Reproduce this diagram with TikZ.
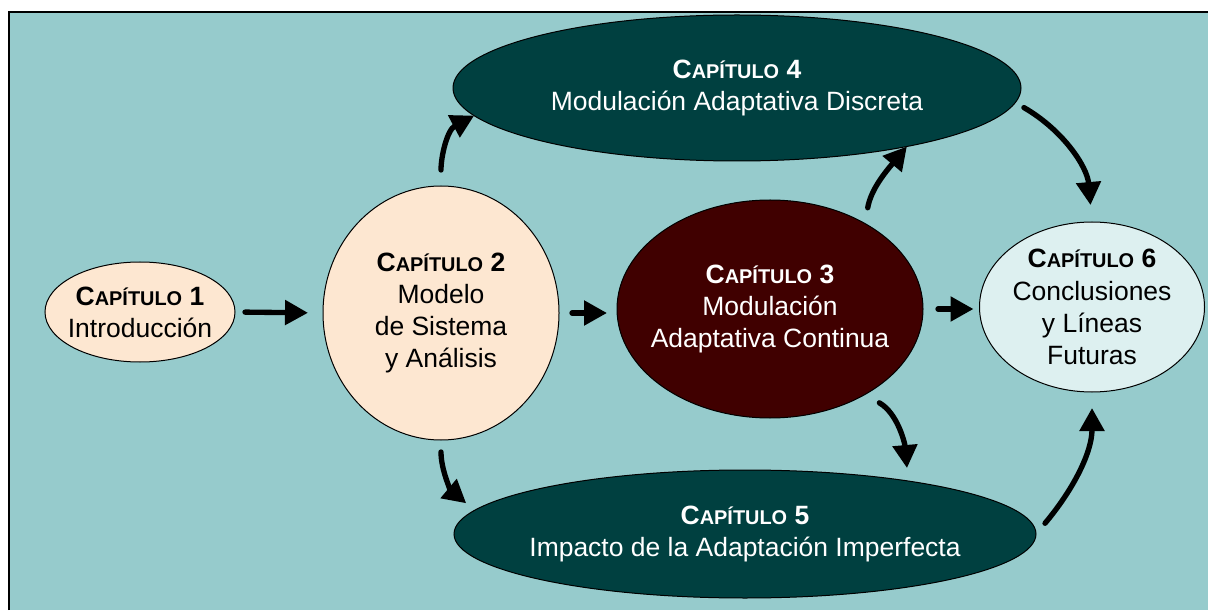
\documentclass[tikz,border=0pt]{standalone}
\usepackage{fontspec}
\setmainfont{Liberation Sans}
\usetikzlibrary{arrows.meta, shapes.geometric}
\definecolor{fondo}{HTML}{96CBCC}
\definecolor{melocoton}{HTML}{FDE7D1}
\definecolor{granate}{HTML}{400000}
\definecolor{verdeosc}{HTML}{004040}
\definecolor{celeste}{HTML}{DDF0F0}
\newcommand{\capit}[1]{\textbf{C{\fontsize{17}{27}\selectfont APÍTULO} #1}}
\tikzset{
  elip/.style={ellipse, draw=black, line width=0.3mm, inner sep=0pt, outer sep=0pt},
  texto/.style={align=center, font=\fontsize{22.6}{27.5}\selectfont},
  flecha/.style={line width=1.6mm, line cap=round, -{Triangle[length=6.9mm,width=7.2mm]}}
}

\begin{document}
\begin{tikzpicture}[x=0.3mm, y=0.3mm]
\useasboundingbox (0,0) rectangle (1208,610);
\fill[fondo] (9,0) rectangle (1208,598);
\draw[line width=0.45mm] (9,0) -- (9,598) -- (1208,598);

\node[elip, fill=melocoton, minimum width=57mm, minimum height=30mm] (c1) at (140,298) {};
\node[elip, fill=melocoton, minimum width=70.8mm, minimum height=76.2mm] (c2) at (441,297) {};
\node[elip, fill=granate, minimum width=91.8mm, minimum height=65.4mm] (c3) at (770,301) {};
\node[elip, fill=verdeosc, minimum width=170.4mm, minimum height=43.8mm] (c4) at (737,522) {};
\node[elip, fill=verdeosc, minimum width=174.6mm, minimum height=38.4mm] (c5) at (745,76) {};
\node[elip, fill=celeste, minimum width=67.5mm, minimum height=51mm] (c6) at (1092,303) {};

\node[texto] (t1) at (c1) {\capit{1}\\Introducción};
\node[texto] (t2) at (c2) {\capit{2}\\Modelo\\de Sistema\\y Análisis};
\node[texto, text=white] (t3) at (c3) {\capit{3}\\Modulación\\Adaptativa Continua};
\node[texto, text=white] (t4) at (c4) {\capit{4}\\Modulación Adaptativa Discreta};
\node[texto, text=white] (t5) at (c5) {\capit{5}\\Impacto de la Adaptación Imperfecta};
\node[texto] (t6) at (c6) {\capit{6}\\Conclusiones\\y Líneas\\Futuras};

\draw[flecha, shorten <=3mm, shorten >=4.5mm] (c1.east) -- (c2.west);
\draw[flecha, shorten <=3.9mm, shorten >=3mm] (c2.east) -- (c2.east -| c3.west);
\draw[flecha, shorten <=4.5mm, shorten >=1.8mm] (c3.east) -- (c3.east -| c6.west);
\draw[flecha, shorten <=4.8mm] (c2.north) to[out=90, in=208] (c4.186);
\draw[flecha, shorten <=4.8mm] (c3.42) to[out=80, in=230] (c4.-19);
\draw[flecha, shorten <=3mm, shorten >=5.1mm] (c4.-3) to[out=-30, in=95] (c6.north);
\draw[flecha, shorten <=3.6mm, shorten >=3.3mm] (c2.south) to[out=-90, in=140] (c5.175);
\draw[flecha, shorten <=5mm, shorten >=3.9mm] (c3.-42) to[out=-30, in=95] (c5.18);
\draw[flecha, shorten <=4.2mm, shorten >=4.8mm] (c5.east) to[out=50, in=-90] (c6.south);
\end{tikzpicture}
\end{document}
